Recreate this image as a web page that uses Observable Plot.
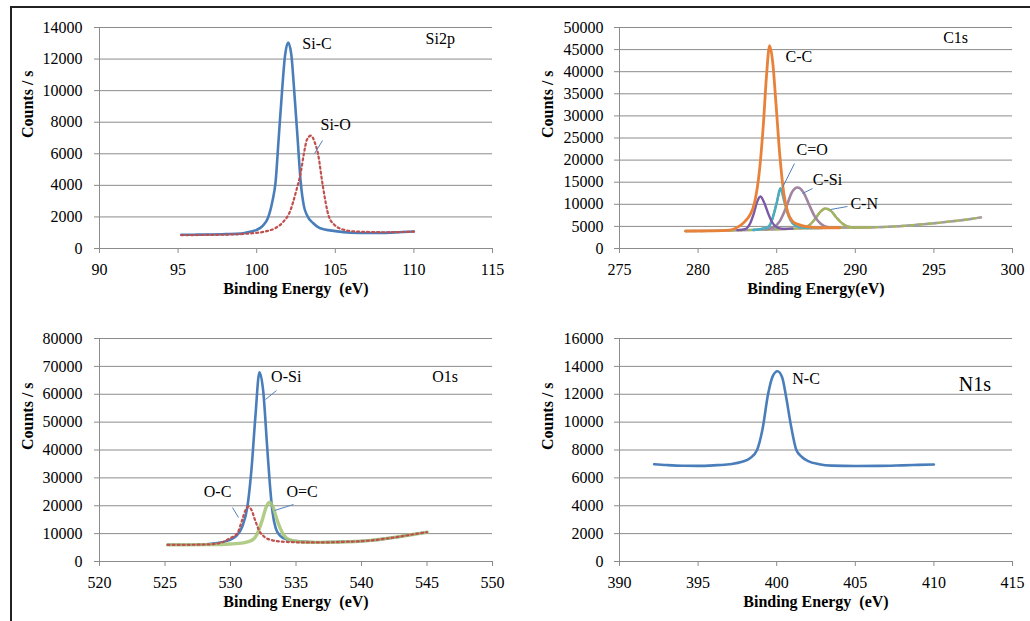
<!DOCTYPE html>
<html>
<head>
<meta charset="utf-8">
<script src="https://cdn.jsdelivr.net/npm/d3@7"></script>
<script src="https://cdn.jsdelivr.net/npm/@observablehq/plot@0.6"></script>
<style>
  html, body { margin: 0; padding: 0; background: #fff; }
  #wrap { position: relative; width: 1030px; height: 621px; overflow: hidden; background: #fff; }
  .panel { position: absolute; }
  .panel svg { display: block; background: transparent; }
  .panel svg text { font-family: "Liberation Serif", "Times New Roman", serif !important; }
  #frameTop { position: absolute; left: 10px; top: 6px; width: 1020px; height: 0; border-top: 2px solid #222; z-index: 5; }
  #frameLeft { position: absolute; left: 10px; top: 6px; width: 0; height: 615px; border-left: 2px solid #222; z-index: 5; }
</style>
</head>
<body>
<div id="wrap">
  <div id="frameTop"></div>
  <div id="frameLeft"></div>
  <div class="panel" id="p1" style="left:0px;top:0px"></div>
  <div class="panel" id="p2" style="left:515px;top:0px"></div>
  <div class="panel" id="p3" style="left:0px;top:310px"></div>
  <div class="panel" id="p4" style="left:515px;top:310px"></div>
</div>
<script>
// ---------- Si2p ----------
const si2pXTicks = [90, 95, 100, 105, 110, 115];
const si2pYTicks = [0, 2000, 4000, 6000, 8000, 10000, 12000, 14000];
const siC = [[95.2,870],[96,875],[97,885],[98,910],[99,940],[99.5,1050],[100,1180],[100.4,1450],[100.7,1900],[101,3000],[101.2,4200],[101.4,7000],[101.6,9800],[101.8,12200],[102,13050],[102.2,12300],[102.4,9800],[102.6,7000],[102.8,4200],[103,2700],[103.2,2100],[103.6,1600],[104,1300],[105,1100],[106,1000],[107,980],[108,990],[109,1030],[110,1080]];
const siO = [[95.2,850],[97,860],[98.5,890],[99.5,950],[100.5,1070],[101.2,1300],[101.7,1700],[102.1,2300],[102.5,3600],[102.8,4800],[103,6000],[103.2,6900],[103.45,7150],[103.7,6700],[103.9,6000],[104.2,4000],[104.6,2000],[105,1450],[105.5,1200],[106,1100],[107,1050],[108,1030],[109,1040],[110,1070]];
const si2pLabels = [{t:"Si-C", x:102.9, y:12990, s:16},{t:"Si-O", x:104.06, y:7855, s:16},{t:"Si2p", x:110.74, y:13285, s:16}];
const si2pLeaders = [{x1:104.19, y1:6840, x2:103.68, y2:6020}];

// ---------- C1s ----------
const c1sXTicks = [275, 280, 285, 290, 295, 300];
const c1sYTicks = [0, 5000, 10000, 15000, 20000, 25000, 30000, 35000, 40000, 45000, 50000];
const c1sBg = [[279.2,3950],[281,4000],[283,4150],[285,4350],[287,4600],[289,4700],[291,4800],[292,4900],[293,5100],[294,5400],[295,5700],[296,6100],[297,6500],[298,7050]];
const cC = [[279.2,3950],[281,4000],[282,4150],[282.6,5000],[283,6200],[283.3,7600],[283.6,10500],[283.9,17500],[284.15,28000],[284.35,39000],[284.55,45900],[284.75,42000],[284.95,33000],[285.2,21000],[285.45,12500],[285.7,8200],[286,6200],[286.4,5400],[287,4900],[288,4700],[289,4700]];
const cPurple = [[282.5,4150],[283,4400],[283.3,5600],[283.55,8000],[283.75,10500],[283.97,11760],[284.2,10400],[284.45,8000],[284.7,6000],[285,4800],[285.4,4450],[286,4500]];
const cO = [[283.5,4200],[284,4400],[284.5,5000],[284.75,7000],[285.0,10300],[285.24,13570],[285.5,10500],[285.75,7500],[286,5800],[286.4,4900],[287,4650],[288,4700]];
const cSi = [[284.3,4350],[284.8,4800],[285.2,6200],[285.6,9300],[285.95,12600],[286.32,13800],[286.7,12700],[287.05,10000],[287.4,7400],[287.8,5600],[288.3,4800],[289,4700]];
const cN = [[286.5,4600],[287,5100],[287.4,6500],[287.8,8400],[288.1,9050],[288.45,8500],[288.8,7000],[289.2,5600],[289.6,4900],[290.2,4750],[291,4800]];
const c1sLabels = [{t:"C-C", x:285.56, y:43440, s:16},{t:"C=O", x:286.26, y:22330, s:16},{t:"C-Si", x:287.3, y:15610, s:16},{t:"C-N", x:289.69, y:10110, s:16},{t:"C1s", x:295.59, y:47580, s:16}];
const c1sLeaders = [{x1:286.13, y1:19230, x2:285.37, y2:13800},{x1:287.28, y1:13575, x2:286.64, y2:12440},{x1:289.5, y1:9500, x2:288.42, y2:8820}];

// ---------- O1s ----------
const o1sXTicks = [520, 525, 530, 535, 540, 545, 550];
const o1sYTicks = [0, 10000, 20000, 30000, 40000, 50000, 60000, 70000, 80000];
const oSi = [[525.2,6000],[527,6000],[528,6150],[529,6600],[529.8,7500],[530.4,9000],[530.9,12500],[531.3,20000],[531.6,33000],[531.9,52000],[532.21,67900],[532.5,61000],[532.8,41000],[533.0,28000],[533.2,18000],[533.45,12000],[533.8,9200],[534.3,7900],[535,7300],[536,7000],[537,6900],[538,7000],[539,7100],[540,7300],[541,7700],[542,8300],[543,9000],[544,9800],[545,10500]];
const oC = [[525.2,6000],[527,6000],[528.5,6200],[529.3,6800],[529.9,8200],[530.5,10000],[530.9,15000],[531.15,18500],[531.37,19700],[531.6,18500],[531.9,14500],[532.2,11000],[532.6,8800],[533.2,7600],[534,7100],[535,6900],[536,6850],[537,6850],[538,6950],[539,7100],[540,7300],[541,7700],[542,8300],[543,9000],[544,9800],[545,10500]];
const oDC = [[525.2,5950],[528,6050],[530,6300],[531,6700],[531.6,7500],[532,9500],[532.4,14500],[532.75,19800],[532.98,21270],[533.25,19500],[533.55,15000],[534,10000],[534.3,8300],[534.8,7400],[535.5,7000],[536.5,6850],[537.5,6900],[538.5,7000],[539.5,7150],[540.5,7500],[541.5,8000],[542.5,8650],[543.5,9400],[544.5,10100],[545,10500]];
const o1sLabels = [{t:"O-Si", x:533.1, y:66370, s:16},{t:"O-C", x:527.96, y:24860, s:16},{t:"O=C", x:534.27, y:24860, s:16},{t:"O1s", x:545.4, y:66120, s:16}];
const o1sLeaders = [{x1:533.51, y1:61350, x2:532.67, y2:58120},{x1:530.15, y1:19370, x2:530.61, y2:15780},{x1:534.81, y1:20450, x2:533.36, y2:18300}];

// ---------- N1s ----------
const n1sXTicks = [390, 395, 400, 405, 410, 415];
const n1sYTicks = [0, 2000, 4000, 6000, 8000, 10000, 12000, 14000, 16000];
const nC = [[392.2,6980],[393,6920],[394,6870],[395,6860],[396,6900],[397,6980],[397.8,7150],[398.3,7400],[398.75,8000],[399.1,9500],[399.45,12000],[399.75,13300],[400.05,13650],[400.35,13200],[400.6,11800],[400.9,9800],[401.25,8000],[401.6,7500],[402,7200],[402.7,6980],[403.5,6880],[405,6850],[406.5,6860],[408,6900],[409,6930],[410,6960]];
const n1sLabels = [{t:"N-C", x:400.99, y:13110, s:16},{t:"N1s", x:411.58, y:12680, s:20}];
const n1sLeaders = [];

const FONT = "Liberation Serif";
const GRID = "#8c8c8c";
const LEAD = "#4f81bd";

function ln(data, opts) {
  return Plot.line(data, Object.assign({x: d => d[0], y: d => d[1], curve: "monotone-x", strokeLinejoin: "round"}, opts));
}

function panel(cfg) {
  const xmin = cfg.xTicks[0], xmax = cfg.xTicks[cfg.xTicks.length - 1];
  const ymax = cfg.yTicks[cfg.yTicks.length - 1];
  const marks = [
    Plot.gridY(cfg.yTicks, {stroke: GRID, strokeOpacity: 1, strokeWidth: 1}),
    Plot.axisY({ticks: cfg.yTicks, tickSize: 5, tickPadding: cfg.yPad, stroke: GRID, tickFormat: d => String(d), label: null, fontSize: 16, fontFamily: FONT, fill: "black"}),
    Plot.axisX({ticks: cfg.xTicks, tickSize: 5, tickPadding: 10, stroke: GRID, tickFormat: d => String(d), label: null, fontSize: 16, fontFamily: FONT, fill: "black"}),
    Plot.ruleY([0], {stroke: GRID, strokeWidth: 1}),
    Plot.ruleX([xmin], {stroke: GRID, strokeWidth: 1}),
    ...cfg.lines,
    Plot.link(cfg.leaders, {x1: "x1", y1: "y1", x2: "x2", y2: "y2", stroke: LEAD, strokeWidth: 1}),
    Plot.text(cfg.labels, {x: "x", y: "y", text: "t", textAnchor: "start", fontSize: d => d.s, fontFamily: FONT, fill: "black"}),
    Plot.text([cfg.xlabel], {frameAnchor: "bottom", dy: 45, fontWeight: "bold", fontSize: 16, fontFamily: FONT, fill: "black"}),
    Plot.text(["Counts / s"], {frameAnchor: "left", dx: -72, rotate: -90, fontWeight: "bold", fontSize: 16, fontFamily: FONT, fill: "black"})
  ];
  const chart = Plot.plot({
    width: 515,
    height: cfg.height,
    marginLeft: cfg.ml, marginRight: cfg.mr, marginTop: cfg.mt, marginBottom: cfg.mb,
    x: {domain: [xmin, xmax], axis: null},
    y: {domain: [0, ymax], axis: null},
    style: {fontFamily: FONT, fontSize: "16px", color: "black", background: "transparent", overflow: "visible"},
    marks
  });
  document.getElementById(cfg.id).appendChild(chart);
}

panel({
  id: "p1", height: 310, ml: 99, mr: 23, mt: 27, mb: 62, yPad: 12,
  xTicks: si2pXTicks, yTicks: si2pYTicks, xlabel: "Binding Energy  (eV)",
  labels: si2pLabels, leaders: si2pLeaders,
  lines: [
    ln(siC, {stroke: "#4a7ebb", strokeWidth: 2.6}),
    ln(siO, {stroke: "#c0504d", strokeWidth: 2.2, strokeDasharray: "2 3"})
  ]
});

panel({
  id: "p2", height: 310, ml: 104, mr: 18, mt: 27, mb: 62, yPad: 11,
  xTicks: c1sXTicks, yTicks: c1sYTicks, xlabel: "Binding Energy(eV)",
  labels: c1sLabels, leaders: c1sLeaders,
  lines: [
    ln(c1sBg, {stroke: "#d8a0a0", strokeWidth: 2.4}),
    ln(c1sBg, {stroke: "#9bbb59", strokeWidth: 2.4, strokeDasharray: "3 6"}),
    ln(c1sBg, {stroke: "#a0a0a0", strokeWidth: 2.4, strokeDasharray: "3 6", strokeDashoffset: 4}),
    ln(cN, {stroke: "#c79190", strokeWidth: 2.4}),
    ln(cN, {stroke: "#9bbb59", strokeWidth: 2.4, strokeDasharray: "4 3"}),
    ln(cSi, {stroke: "#a084a0", strokeWidth: 2.6}),
    ln(cO, {stroke: "#9bbb59", strokeWidth: 2.4}),
    ln(cO, {stroke: "#4bacc6", strokeWidth: 2.6, strokeDasharray: "2 2"}),
    ln(cPurple, {stroke: "#7a5aa6", strokeWidth: 2.4}),
    ln(cC, {stroke: "#e8823a", strokeWidth: 2.8})
  ]
});

panel({
  id: "p3", height: 311, ml: 99, mr: 23, mt: 28, mb: 60, yPad: 12,
  xTicks: o1sXTicks, yTicks: o1sYTicks, xlabel: "Binding Energy  (eV)",
  labels: o1sLabels, leaders: o1sLeaders,
  lines: [
    ln(oSi, {stroke: "#4a7ebb", strokeWidth: 2.6}),
    ln(oDC, {stroke: "#a9c77a", strokeWidth: 3.4, strokeOpacity: 0.9}),
    ln(oC, {stroke: "#c0504d", strokeWidth: 2.2, strokeDasharray: "2 3"})
  ]
});

panel({
  id: "p4", height: 311, ml: 104, mr: 18, mt: 28, mb: 60, yPad: 11,
  xTicks: n1sXTicks, yTicks: n1sYTicks, xlabel: "Binding Energy  (eV)",
  labels: n1sLabels, leaders: n1sLeaders,
  lines: [
    ln(nC, {stroke: "#4a7ebb", strokeWidth: 2.6})
  ]
});
</script>
</body>
</html>
